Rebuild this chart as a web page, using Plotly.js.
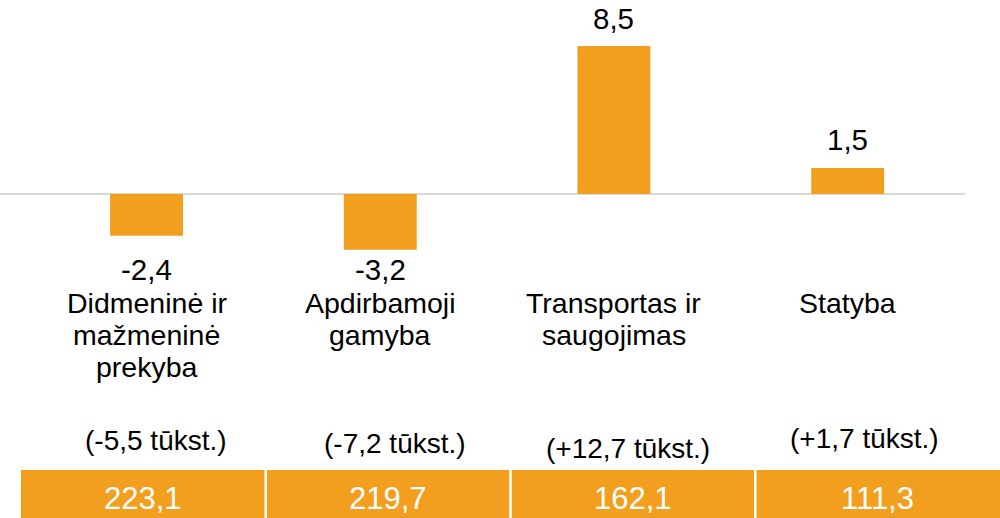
<!DOCTYPE html>
<html>
<head>
<meta charset="utf-8">
<script src="https://cdn.plot.ly/plotly-3.0.1.min.js"></script>
<style>html,body{margin:0;padding:0;background:#fff;}#chart{width:1000px;height:518px;}</style>
</head>
<body>
<div id="chart"></div>
<script>
// ---- data ----
const categoryLines = [
  ['Didmeninė ir', 'mažmeninė', 'prekyba'],
  ['Apdirbamoji', 'gamyba'],
  ['Transportas ir', 'saugojimas'],
  ['Statyba']
];
const categories = categoryLines.map(l => l.join(' '));
const changes = [-2.4, -3.2, 8.5, 1.5];
const employmentChange = [-5.5, -7.2, 12.7, 1.7];
const totals = [223.1, 219.7, 162.1, 111.3];

// ---- layout constants (pixels) ----
const W = 1000, H = 518, R = 35, PW = W - R;
const ORANGE = '#F29F1F';
const FONT = 'Liberation Sans, Arial, sans-serif';
const subLabelX = [156, 395, 628, 864];
const subLabelY = [440, 443, 449, 438];
const catFirstLineY = 303, catLineStep = 32;
const cellStart = 21, cellEnd = 1000, cellTop = 470, cellTextY = 498;

const px = p => p / PW;
const py = p => (H - p) / H;
const fmt = v => v.toFixed(1).replace('.', ',');

const annotations = [];
const minVal = Math.min(...changes);
changes.forEach((v, i) => {
  annotations.push({
    xref: 'x', yref: 'y', x: categories[i], y: v >= 0 ? v : minVal,
    text: fmt(v), showarrow: false, yanchor: 'middle', xanchor: 'center',
    yshift: v >= 0 ? 28 : -20,
    font: {family: FONT, size: 29.5, color: '#000'}
  });
});
categoryLines.forEach((lines, i) => {
  lines.forEach((t, k) => {
    annotations.push({
      xref: 'x', yref: 'paper', x: categories[i], y: py(catFirstLineY + catLineStep * k),
      text: t, showarrow: false, yanchor: 'middle', xanchor: 'center',
      font: {family: FONT, size: 28.5, color: '#000'}
    });
  });
});
employmentChange.forEach((v, i) => {
  annotations.push({
    xref: 'paper', yref: 'paper', x: px(subLabelX[i]), y: py(subLabelY[i]),
    text: '(' + (v > 0 ? '+' : '') + fmt(v) + ' tūkst.)', showarrow: false,
    yanchor: 'middle', xanchor: 'center',
    font: {family: FONT, size: 28, color: '#000'}
  });
});
const stride = (cellEnd - cellStart) / totals.length;
const shapes = [{
  type: 'rect', xref: 'paper', yref: 'paper',
  x0: px(cellStart), x1: px(cellEnd), y0: 0, y1: py(cellTop),
  fillcolor: ORANGE, line: {width: 0}, layer: 'above'
}];
totals.forEach((v, i) => {
  if (i > 0) {
    const sx = cellStart + stride * i;
    shapes.push({type: 'line', xref: 'paper', yref: 'paper', x0: px(sx), x1: px(sx),
      y0: 0, y1: py(cellTop), line: {color: '#fff', width: 2.5}, layer: 'above'});
  }
  annotations.push({
    xref: 'paper', yref: 'paper', x: px(cellStart + stride * (i + 0.5)), y: py(cellTextY),
    text: fmt(v), showarrow: false, yanchor: 'middle', xanchor: 'center',
    font: {family: FONT, size: 31, color: '#fff'}
  });
});

const trace = {
  type: 'bar', x: categories, y: changes, width: 0.312,
  marker: {color: ORANGE, line: {width: 0}}, hoverinfo: 'skip'
};

const layout = {
  width: W, height: H,
  margin: {l: 0, r: R, t: 0, b: 0, pad: 0},
  paper_bgcolor: '#fff', plot_bgcolor: '#fff',
  showlegend: false,
  xaxis: {type: 'category', categoryorder: 'array', categoryarray: categories,
    range: [-0.627, 3.502], showticklabels: false, showgrid: false, zeroline: false,
    showline: false, ticks: '', fixedrange: true},
  yaxis: {range: [-18.61, 11.143], showticklabels: false, showgrid: false,
    zeroline: true, zerolinecolor: '#d9d9d9', zerolinewidth: 2, showline: false,
    ticks: '', fixedrange: true},
  annotations: annotations,
  shapes: shapes
};

Plotly.newPlot('chart', [trace], layout, {displayModeBar: false, staticPlot: true});
</script>
</body>
</html>
